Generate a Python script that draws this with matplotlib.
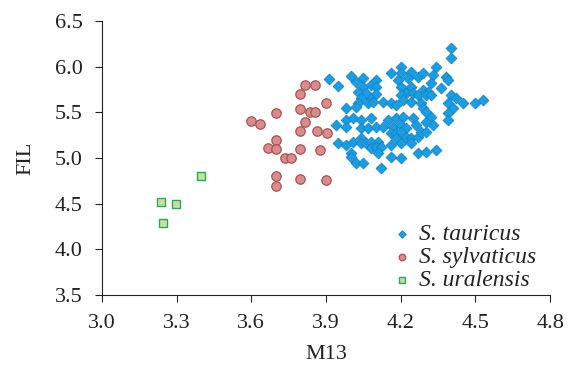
import matplotlib
matplotlib.use("Agg")
import matplotlib.pyplot as plt

plt.rcParams['font.family'] = ['Liberation Serif', 'DejaVu Serif']

tauricus_x = [3.91,3.95,4.00,4.02,4.05,4.05,4.08,4.10,4.10,4.03,4.06,4.10,4.04,4.08,4.03,4.07,4.09,4.13,4.16,4.18,
              4.16,4.20,4.20,4.24,4.23,4.19,4.20,4.24,4.22,4.20,4.25,4.21,4.24,4.27,4.27,3.98,4.02,
              3.98,4.01,4.04,4.08,4.15,4.18,4.21,4.25,3.94,3.98,4.04,4.07,4.10,4.13,4.17,4.20,4.22,4.26,
              4.16,4.18,4.20,4.18,4.22,4.24,4.27,4.04,3.95,3.98,4.01,4.04,4.06,4.08,4.11,4.08,4.10,4.12,
              4.16,4.20,4.24,4.00,4.00,4.02,4.05,4.11,4.16,4.20,4.12,4.27,
              4.40,4.40,4.34,4.29,4.33,4.38,4.39,4.32,4.36,4.29,4.31,4.30,4.32,4.40,4.42,4.28,4.39,4.45,
              4.50,4.53,4.29,4.41,
              4.30,4.32,4.39,4.39,4.30,4.33,4.28,4.30,4.30,4.34]
tauricus_y = [5.87,5.79,5.90,5.83,5.88,5.78,5.80,5.85,5.78,5.72,5.71,5.70,5.66,5.65,5.60,5.60,5.61,5.61,5.60,5.58,
              5.93,6.00,5.93,5.94,5.88,5.85,5.78,5.78,5.71,5.69,5.71,5.64,5.61,5.89,5.69,5.55,5.56,
              5.42,5.44,5.42,5.44,5.42,5.44,5.45,5.44,5.36,5.34,5.33,5.33,5.34,5.34,5.34,5.36,5.33,5.36,
              5.27,5.27,5.29,5.22,5.23,5.22,5.23,5.22,5.16,5.14,5.18,5.16,5.16,5.18,5.18,5.11,5.12,5.12,
              5.14,5.16,5.16,5.06,5.01,4.95,4.95,5.06,5.01,5.00,4.89,5.06,
              6.21,6.10,6.00,5.93,5.91,5.89,5.85,5.82,5.77,5.75,5.72,5.69,5.69,5.69,5.66,5.60,5.60,5.60,
              5.60,5.64,5.55,5.55,
              5.50,5.45,5.49,5.42,5.39,5.36,5.29,5.29,5.07,5.09]

sylvaticus_x = [3.815,3.855,3.795,3.90,3.70,3.795,3.835,3.855,3.60,3.635,3.815,3.795,3.865,3.905,3.70,
                3.667,3.70,3.795,3.875,3.735,3.76,3.70,3.795,3.90,3.70]
sylvaticus_y = [5.80,5.80,5.70,5.60,5.49,5.54,5.50,5.50,5.41,5.37,5.39,5.30,5.30,5.27,5.20,
                5.11,5.10,5.10,5.09,5.00,5.00,4.80,4.77,4.76,4.69]

uralensis_x = [3.398,3.237,3.297,3.245]
uralensis_y = [4.80,4.52,4.50,4.29]

xticks = [3.0,3.3,3.6,3.9,4.2,4.5,4.8]
yticks = [3.5,4.0,4.5,5.0,5.5,6.0,6.5]

fig = plt.figure(figsize=(5.69,3.78), dpi=100)
ax = fig.add_axes([0.179, 0.2196, 0.788, 0.7248])

ax.scatter(tauricus_x, tauricus_y, marker='D', s=30, facecolor='#1b9de2', edgecolor='#1784c8',
           linewidth=0.6, label='S. tauricus', zorder=3)
ax.scatter(sylvaticus_x, sylvaticus_y, marker='o', s=46, facecolor='#d98c8c', edgecolor='#a85454',
           linewidth=0.9, label='S. sylvaticus', zorder=3)
ax.scatter(uralensis_x, uralensis_y, marker='s', s=40, facecolor='#c5e0a0', edgecolor='#3aa35a',
           linewidth=1.0, label='S. uralensis', zorder=3)

ax.set_xlim(3.0, 4.8)
ax.set_ylim(3.5, 6.5)
ax.set_xticks(xticks)
ax.set_yticks(yticks)
ax.set_xticklabels([f"{v:.1f}" for v in xticks])
ax.set_yticklabels([f"{v:.1f}" for v in yticks])
ax.tick_params(axis='both', direction='out', length=5, width=0.8, labelsize=16, colors='#222222', pad=9)
for side in ['top','right']:
    ax.spines[side].set_visible(False)
for side in ['left','bottom']:
    ax.spines[side].set_linewidth(0.8)
    ax.spines[side].set_color('#222222')

ax.set_xlabel('M13', fontsize=16, color='#222222', labelpad=8)
ax.set_ylabel('FIL', fontsize=16, color='#222222', labelpad=14)

leg = ax.legend(loc='lower left', bbox_to_anchor=(0.648, 0.015), frameon=False,
                prop={'style':'italic', 'size':17}, handletextpad=0.32, labelspacing=0.06,
                handlelength=0.8, markerscale=0.7, borderaxespad=0.0, borderpad=0.0)
for t in leg.get_texts():
    t.set_color('#222222')

fig.savefig('out.png', dpi=100)
